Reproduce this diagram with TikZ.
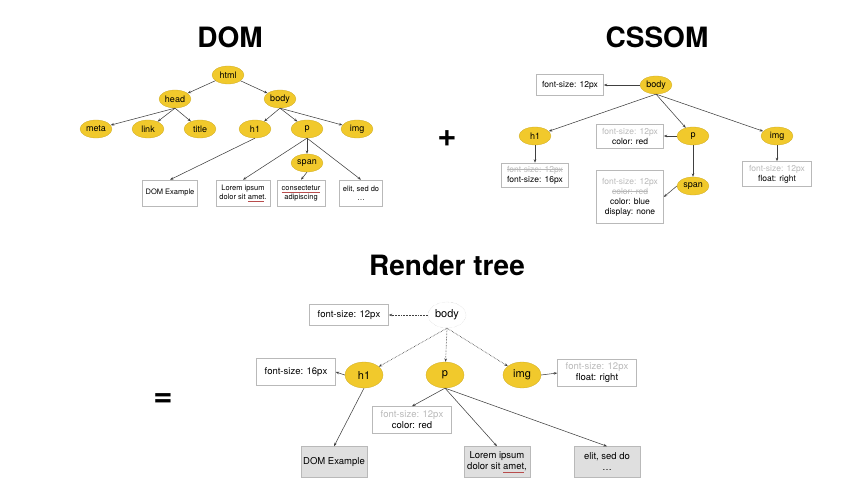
\documentclass[tikz,border=0pt]{standalone}
\usepackage{fontspec}
\setmainfont{TeX Gyre Heros}
\usetikzlibrary{shapes.geometric,arrows.meta}
\definecolor{domyellow}{RGB}{241,201,44}
\newsavebox{\markbox}
\newcommand{\inh}[1]{\textcolor{gray!55}{#1}}
\newcommand{\ovr}[1]{\textcolor{gray!55}{\sbox\markbox{#1}%
    \rlap{\rule[0.3em]{\wd\markbox}{0.4pt}}\usebox\markbox}}
\newcommand{\spellerr}[1]{\sbox\markbox{#1}%
    \rlap{\textcolor{red!60!black!70}{\rule[-0.25em]{\wd\markbox}{0.3pt}}}\usebox\markbox}

\tikzset{
  elem/.style={ellipse, fill=domyellow, draw=domyellow!85!black, line width=0.3pt,
    inner sep=0pt, minimum width=32pt, minimum height=18pt,
    font=\fontsize{9}{10}\selectfont},
  relem/.style={elem, minimum width=38pt, minimum height=26pt,
    font=\fontsize{11}{12}\selectfont},
  txtbox/.style={draw=gray!55, line width=0.5pt, align=center, inner sep=2pt,
    font=\fontsize{7.5}{9}\selectfont, minimum height=26pt},
  cssbox/.style={txtbox, font=\fontsize{8.5}{10}\selectfont, minimum width=67pt,
    minimum height=24pt},
  rbox/.style={txtbox, font=\fontsize{9.5}{11}\selectfont, minimum width=79pt,
    minimum height=27pt},
  leafbox/.style={rbox, fill=gray!25, minimum width=66pt, minimum height=31pt},
  title/.style={font=\fontsize{28}{30}\selectfont\bfseries},
  link/.style={->, >={Stealth[length=3.5pt,width=2.6pt]}, line width=0.55pt, draw=black!75},
  inherit/.style={link, densely dotted, line width=0.7pt}
}

\begin{document}
\begin{tikzpicture}[x=1pt, y=-1pt]
    \useasboundingbox (0,0) rectangle (856,500);
    % Titles and signs
    \node[title] (domtitle) at (230,37) {DOM};
    \node[title] (csstitle) at (657,37) {CSSOM};
    \node[title] (rtitle) at (447,265) {Render tree};
    \node[font=\fontsize{33}{33}\selectfont\bfseries] (plus) at (447,139) {+};
    \node[font=\fontsize{33}{33}\selectfont\bfseries] (equals) at (163,400) {=};

    % DOM tree
    \node[elem] (html) at (228,75) {html};
    \node[elem] (head) at (175,99) {head};
    \node[elem] (body) at (280,99) {body};
    \node[elem] (meta) at (96,129) {meta};
    \node[elem] (link) at (148,129) {link};
    \node[elem] (title) at (200,129) {title};
    \node[elem] (h1) at (255,129) {h1};
    \node[elem] (p) at (307,129) {p};
    \node[elem] (img) at (357,129) {img};
    \node[elem] (span) at (307,163) {span};
    \node[txtbox, minimum width=55pt] (domex) at (170,193) {DOM Example};
    \node[txtbox, minimum width=54pt] (lorem) at (243,193) {Lorem ipsum\\dolor sit \spellerr{amet}.};
    \node[txtbox, minimum width=48pt] (consect) at (301,193) {\spellerr{consectetur}\\adipiscing};
    \node[txtbox, minimum width=43pt] (elit) at (361,193) {elit, sed do\\\dots};
    \draw[link] (html) -- (head);
    \draw[link] (html) -- (body);
    \foreach \c in {meta,link,title}
        \draw[link] (head.south) -- (\c);
    \foreach \c in {h1,p,img}
        \draw[link] (body.south) -- (\c);
    \draw[link] (h1.south) -- (domex.north);
    \draw[link] (p.south) -- (lorem.north);
    \draw[link] (p.south) -- (span.north);
    \draw[link] (p.south) -- (elit.north);
    \draw[link] (span.south) -- (consect.north);

    % CSSOM tree
    \node[elem] (cbody) at (656,85) {body};
    \node[elem] (ch1) at (535,136) {h1};
    \node[elem] (cp) at (693,136) {p};
    \node[elem] (cimg) at (777,136) {img};
    \node[elem] (cspan) at (693,186) {span};
    \node[cssbox, minimum height=21pt] (cbodybox) at (570,85) {font-size: 12px};
    \node[cssbox] (cpbox) at (630,136) {\inh{font-size: 12px}\\color: red};
    \node[cssbox] (ch1box) at (535,175) {\ovr{font-size: 12px}\\font-size: 16px};
    \node[cssbox, minimum height=53pt] (cspanbox) at (630,197)
        {\inh{font-size: 12px}\\\ovr{color: red}\\color: blue\\display: none};
    \node[cssbox, minimum width=69pt, minimum height=25pt] (cimgbox) at (777,174)
        {\inh{font-size: 12px}\\float: right};
    \draw[link] (cbody.west) -- (cbodybox.east);
    \foreach \c in {ch1,cp,cimg}
        \draw[link] (cbody.south) -- (\c);
    \draw[link] (ch1.south) -- (ch1box.north);
    \draw[link] (cp.west) -- (cpbox.east);
    \draw[link] (cp.south) -- (cspan.north);
    \draw[link] (cspan.west) -- (cspanbox.east);
    \draw[link] (cimg.south) -- (cimgbox.north);

    % Render tree
    \node[relem, fill=white, draw=gray!60, densely dotted] (rbody) at (447,315) {body};
    \node[relem] (rh1) at (364,375) {h1};
    \node[relem] (rp) at (445,375) {p};
    \node[relem] (rimg) at (522,375) {img};
    \node[rbox, minimum height=21pt] (rbodybox) at (349,315) {font-size: 12px};
    \node[rbox] (rh1box) at (296,372) {font-size: 16px};
    \node[rbox] (rimgbox) at (597,373) {\inh{font-size: 12px}\\float: right};
    \node[rbox] (rpbox) at (412,420) {\inh{font-size: 12px}\\color: red};
    \node[leafbox] (rdomex) at (334,462) {DOM Example};
    \node[leafbox] (rlorem) at (497,462) {Lorem ipsum\\dolor sit \spellerr{amet},};
    \node[leafbox] (relit) at (607,462) {elit, sed do\\\dots};
    \draw[inherit] (rbody.west) -- (rbodybox.east);
    \foreach \c in {rh1,rp,rimg}
        \draw[inherit] (rbody.south) -- (\c);
    \draw[link] (rh1.west) -- (rh1box.east);
    \draw[link] (rimg.east) -- (rimgbox.west);
    \draw[link] (rh1.south) -- (rdomex.north);
    \draw[link] (rp.south) -- (rpbox.north);
    \draw[link] (rp.south) -- (rlorem.north);
    \draw[link] (rp.south) -- (relit.north);
\end{tikzpicture}
\end{document}
